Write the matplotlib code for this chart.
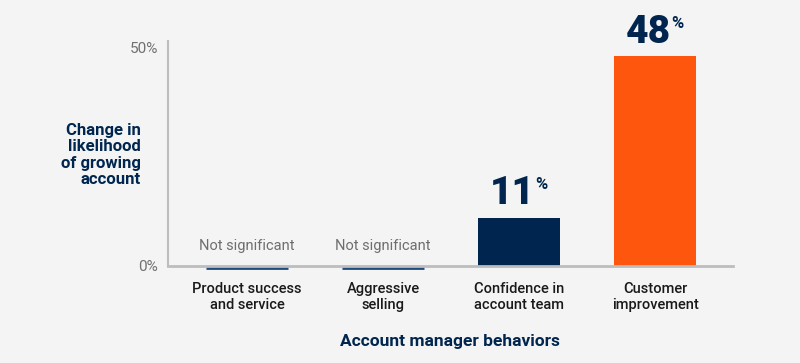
import matplotlib.pyplot as plt
import numpy as np

# data
categories = ["Product success\nand service", "Aggressive\nselling",
              "Confidence in\naccount team", "Customer\nimprovement"]
values = [0, 0, 11, 48]
significant = [False, False, True, True]
bar_colors = ["#00264F", "#00264F", "#00264F", "#FF560D"]
yticks = [0, 50]
ytick_labels = ["0%", "50%"]

navy = "#00264F"
bg = "#F4F4F4"

plt.rcParams['font.family'] = ['Roboto', 'DejaVu Sans']

fig = plt.figure(figsize=(8, 3.63), dpi=100, facecolor=bg)
ax = fig.add_axes([0.21, 0.268, 0.706, 0.619], facecolor=bg)

x = np.arange(len(categories))
w = 0.6
ax.bar(x, values, width=w, color=bar_colors, linewidth=0, zorder=2)

# zero-height bars show as a thin line just under the axis
for xi, v, sig in zip(x, values, significant):
    if not sig:
        ax.hlines(-0.6, xi - w / 2, xi + w / 2, color="#1F4A7A", lw=2,
                  zorder=1, clip_on=False)
        ax.text(xi, 4.5, "Not significant", ha="center", va="center",
                fontsize=10.5, color="#6E6E6E")

ax.set_xlim(-0.58, 3.57)
ax.set_ylim(0, 51.5)
ax.set_yticks(yticks)
ax.set_yticklabels(ytick_labels, fontsize=11, color="#707070")
ax.set_xticks(x)
ax.set_xticklabels(categories, fontsize=10.5, color="#1A1A1A", linespacing=1.15,
                   fontweight="medium")
ax.tick_params(axis="both", length=0)
ax.tick_params(axis="y", pad=7)
ax.tick_params(axis="x", pad=12)

for s in ["top", "right"]:
    ax.spines[s].set_visible(False)
ax.spines["left"].set_color("#BDBDBD")
ax.spines["left"].set_linewidth(1.5)
ax.spines["bottom"].set_color("#BDBDBD")
ax.spines["bottom"].set_linewidth(2)
ax.spines["left"].set_zorder(3)
ax.spines["bottom"].set_zorder(3)

ax.set_xlabel("Account manager behaviors", fontsize=12.5, fontweight="bold",
              color=navy, labelpad=16)

fig.text(0.176, 0.573, "Change in\nlikelihood\nof growing\naccount",
         ha="right", va="center", multialignment="right", fontsize=12,
         fontweight="bold", color=navy, linespacing=1.12)

# value labels: big number with small superscript %
fig.canvas.draw()
renderer = fig.canvas.get_renderer()
for xi, v, sig in zip(x, values, significant):
    if not sig:
        continue
    t = ax.annotate(f"{v}", (xi, v), xytext=(-5, 4), textcoords="offset points",
                    ha="center", va="bottom", fontsize=28, fontweight="black",
                    color=navy, annotation_clip=False)
    bb = t.get_window_extent(renderer).transformed(ax.transData.inverted())
    ax.annotate("%", (bb.x1, bb.y1), xytext=(0.4, -1.5), textcoords="offset points",
                ha="left", va="top", fontsize=12, fontweight="bold", color=navy,
                annotation_clip=False)

fig.savefig("out.png", dpi=100, facecolor=bg)
